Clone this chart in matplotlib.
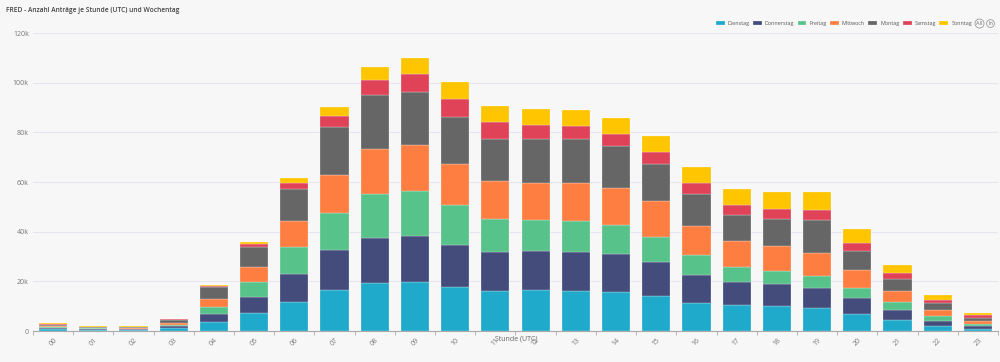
import matplotlib.pyplot as plt
from matplotlib.ticker import FuncFormatter, FixedLocator
import numpy as np

hours = ["%02d" % h for h in range(24)]

# values in thousands (stack order bottom -> top)
dienstag = [0.9, 0.6, 0.6, 1.3, 3.5, 7.1, 11.7, 16.4, 19.3, 19.7, 17.7, 16.0,
            16.4, 16.1, 15.8, 14.2, 11.4, 10.5, 9.9, 9.3, 7.0, 4.5, 2.2, 0.9]
donnerstag = [0.4, 0.3, 0.2, 0.8, 3.2, 6.5, 11.3, 16.2, 18.2, 18.7, 17.1, 15.8,
              15.7, 15.8, 15.4, 13.7, 11.3, 9.1, 9.0, 8.0, 6.2, 4.0, 2.0, 1.1]
freitag = [0.4, 0.2, 0.2, 0.5, 3.1, 6.3, 10.7, 14.8, 17.8, 17.9, 15.8, 13.5,
           12.5, 12.5, 11.4, 10.0, 7.8, 6.3, 5.3, 5.0, 4.1, 3.0, 1.8, 0.9]
mittwoch = [0.3, 0.2, 0.3, 0.7, 3.1, 5.9, 10.5, 15.4, 18.0, 18.6, 16.5, 15.0,
            15.1, 15.3, 15.1, 14.5, 11.9, 10.3, 10.0, 9.2, 7.4, 4.6, 2.5, 1.2]
montag = [0.4, 0.3, 0.2, 1.0, 4.7, 7.9, 12.9, 19.5, 21.7, 21.5, 19.2, 17.2,
          17.6, 17.6, 16.8, 15.0, 12.8, 10.6, 11.0, 13.3, 7.6, 4.9, 2.7, 1.3]
samstag = [0.5, 0.2, 0.2, 0.4, 0.4, 1.3, 2.4, 4.3, 6.2, 7.1, 7.3, 6.7,
           5.8, 5.4, 5.0, 4.7, 4.3, 4.1, 3.9, 3.8, 3.1, 2.2, 1.4, 0.9]
sonntag = [0.3, 0.2, 0.2, 0.3, 0.4, 1.0, 2.2, 3.5, 5.3, 6.3, 6.6, 6.5,
           6.3, 6.2, 6.4, 6.6, 6.5, 6.4, 6.8, 7.3, 5.8, 3.5, 1.8, 0.8]

names = ["Dienstag", "Donnerstag", "Freitag", "Mittwoch", "Montag", "Samstag", "Sonntag"]
colors = ["#1fa9ca", "#444c7c", "#57c289", "#fe7e42", "#666666", "#e04357", "#fec500"]
series = [dienstag, donnerstag, freitag, mittwoch, montag, samstag, sonntag]

plt.rcParams['font.family'] = ['Open Sans', 'DejaVu Sans']

bg = "#f7f7f7"
fig = plt.figure(figsize=(10, 3.62), dpi=100, facecolor=bg)
ax = fig.add_axes([0.033, 0.0856, 0.965, 0.8232], facecolor=bg)

x = np.arange(len(hours))
bottom = np.zeros(len(hours))
for name, col, vals in zip(names, colors, series):
    v = np.array(vals) * 1000
    ax.bar(x, v, bottom=bottom, width=0.7, color=col, edgecolor=(1, 1, 1, 0.6),
           linewidth=0.3, label=name, zorder=3)
    bottom += v

ax.set_xlim(-0.5, len(hours) - 0.5)
ax.set_ylim(0, 120000)
ax.set_yticks(np.arange(0, 120001, 20000))
ax.yaxis.set_major_formatter(FuncFormatter(lambda v, p: "0" if v == 0 else "%dk" % (v / 1000)))
ax.grid(axis="y", color="#e6e7ee", linewidth=0.8, zorder=0)

ax.set_xticks(x)
ax.set_xticklabels(hours, rotation=45, ha="center", va="top")
ax.xaxis.set_minor_locator(FixedLocator(np.arange(-0.5, len(hours), 1)))
ax.tick_params(axis="x", which="major", length=0, pad=4, labelsize=5, labelcolor="#777777")
ax.tick_params(axis="x", which="minor", length=3, color="#aaaaaa", width=0.6)
ax.tick_params(axis="y", length=0, pad=3, labelsize=5, labelcolor="#777777")

for s in ["left", "right", "top"]:
    ax.spines[s].set_visible(False)
ax.spines["bottom"].set_color("#aaaaaa")
ax.spines["bottom"].set_linewidth(0.8)

fig.text(0.516, 0.064, "Stunde (UTC)", fontsize=5, color="#666666", ha="center", va="center")

fig.text(0.006, 0.972, "FRED - Anzahl Anträge je Stunde (UTC) und Wochentag",
         fontsize=4.8, fontweight="semibold", color="#444444", va="center")

fig.legend(loc="center right", bbox_to_anchor=(0.972, 0.935), ncol=7, frameon=False,
           fontsize=3.9, handlelength=1.65, handleheight=0.9, handletextpad=0.55,
           columnspacing=0.6, labelcolor="#555555", borderaxespad=0, borderpad=0)

for xp, t in [(0.9795, "All"), (0.9905, "In")]:
    fig.text(xp, 0.935, t, fontsize=4, color="#777777", ha="center", va="center",
             bbox=dict(boxstyle="circle,pad=0.25", fc=bg, ec="#999999", lw=0.6))

fig.savefig("out.png", dpi=100, facecolor=bg)
